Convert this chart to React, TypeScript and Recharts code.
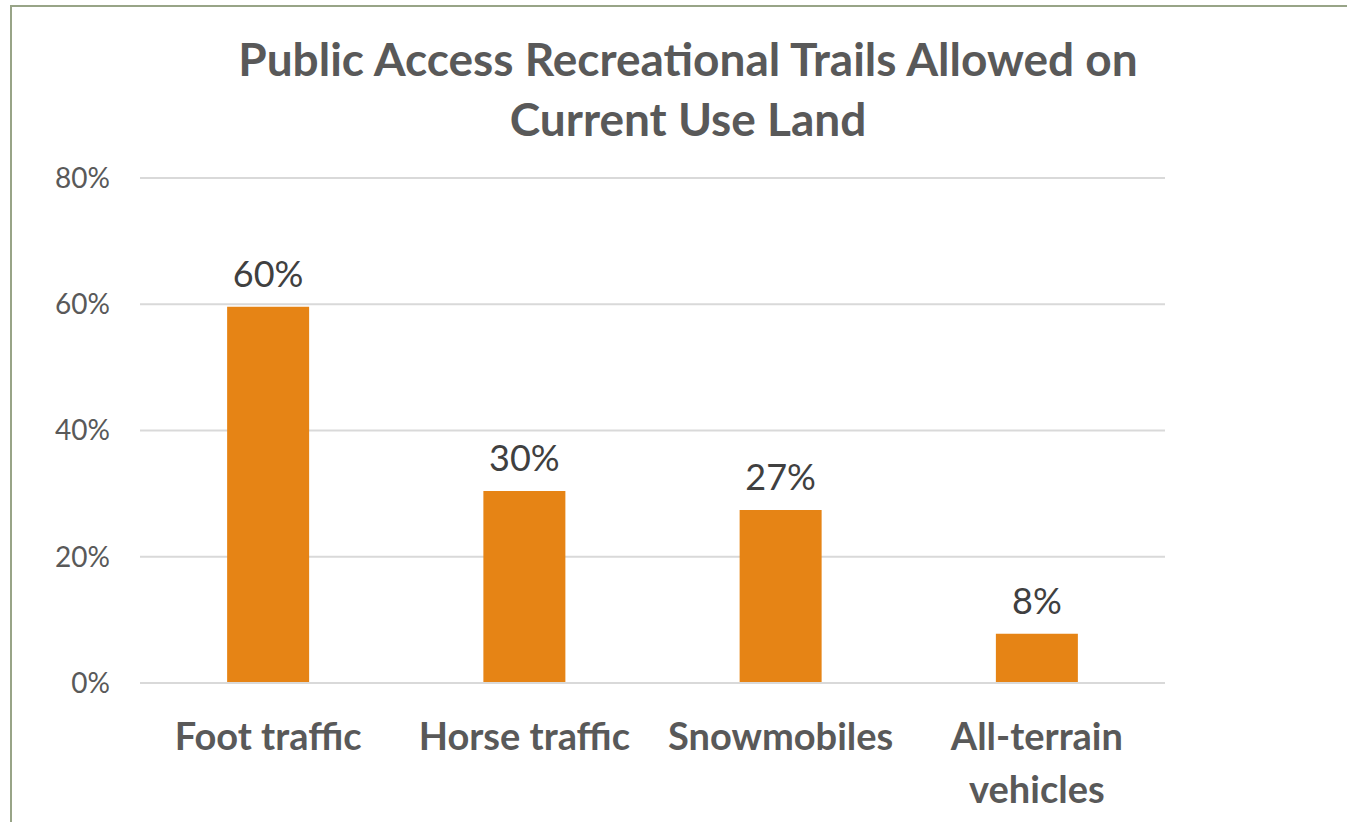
import { BarChart, Bar, XAxis, YAxis, CartesianGrid, LabelList } from "recharts";

const categories = ["Foot traffic", "Horse traffic", "Snowmobiles", "All-terrain vehicles"];
const shares = [0.596, 0.304, 0.274, 0.078];
const yTicks = [0, 0.2, 0.4, 0.6, 0.8];

const data = categories.map((name, i) => ({ name, share: shares[i] }));

const pct = (v: number) => `${Math.round(v * 100)}%`;

const FONT = "Lato, 'Open Sans', sans-serif";

// long category names go on two lines, like the original
const CategoryTick = (props: any) => {
  const { x, y, payload } = props;
  const label: string = payload.value;
  const lines = label.length > 14 ? label.split(" ") : [label];
  return (
    <text
      x={x}
      y={y}
      textAnchor="middle"
      fontFamily={FONT}
      fontWeight={700}
      fontSize={38}
      fill="#595959"
    >
      {lines.map((ln, i) => (
        <tspan key={i} x={x} dy={i === 0 ? 54 : 53}>
          {ln}
        </tspan>
      ))}
    </text>
  );
};

export default function App() {
  return (
    <div
      style={{
        position: "absolute",
        left: 0,
        top: 0,
        width: 1347,
        height: 822,
        overflow: "hidden",
        background: "#fff",
        fontFamily: FONT,
      }}
    >
      <div
        style={{
          position: "absolute",
          left: 10,
          top: 5,
          width: 1400,
          height: 900,
          border: "2px solid #98a487",
        }}
      />
      <div
        style={{
          position: "absolute",
          left: 0,
          top: 29,
          width: 1376,
          textAlign: "center",
          fontSize: 46,
          fontWeight: 700,
          lineHeight: "60px",
          color: "#595959",
        }}
      >
        Public Access Recreational Trails Allowed on
        <br />
        Current Use Land
      </div>
      <div style={{ position: "absolute", left: 0, top: 0 }}>
        <BarChart
          width={1347}
          height={822}
          data={data}
          margin={{ top: 178, right: 182, bottom: 0, left: 0 }}
          barCategoryGap="34%"
        >
          <CartesianGrid vertical={false} stroke="#d9d9d9" strokeWidth={2} />
          <XAxis
            dataKey="name"
            axisLine={{ stroke: "#d9d9d9", strokeWidth: 2 }}
            tickLine={false}
            tickSize={0}
            tickMargin={13}
            height={139}
            tick={<CategoryTick />}
            interval={0}
          />
          <YAxis
            domain={[0, 0.8]}
            ticks={yTicks}
            tickFormatter={pct}
            axisLine={false}
            tickLine={false}
            tickSize={0}
            tickMargin={30}
            width={140}
            tick={{ fontSize: 28, fill: "#595959", fontFamily: FONT }}
          />
          <Bar dataKey="share" fill="#e68415" isAnimationActive={false}>
            <LabelList
              dataKey="share"
              position="top"
              offset={20}
              formatter={(v: any) => pct(Number(v))}
              style={{ fontSize: 36, fill: "#404040", fontFamily: FONT }}
            />
          </Bar>
        </BarChart>
      </div>
    </div>
  );
}
